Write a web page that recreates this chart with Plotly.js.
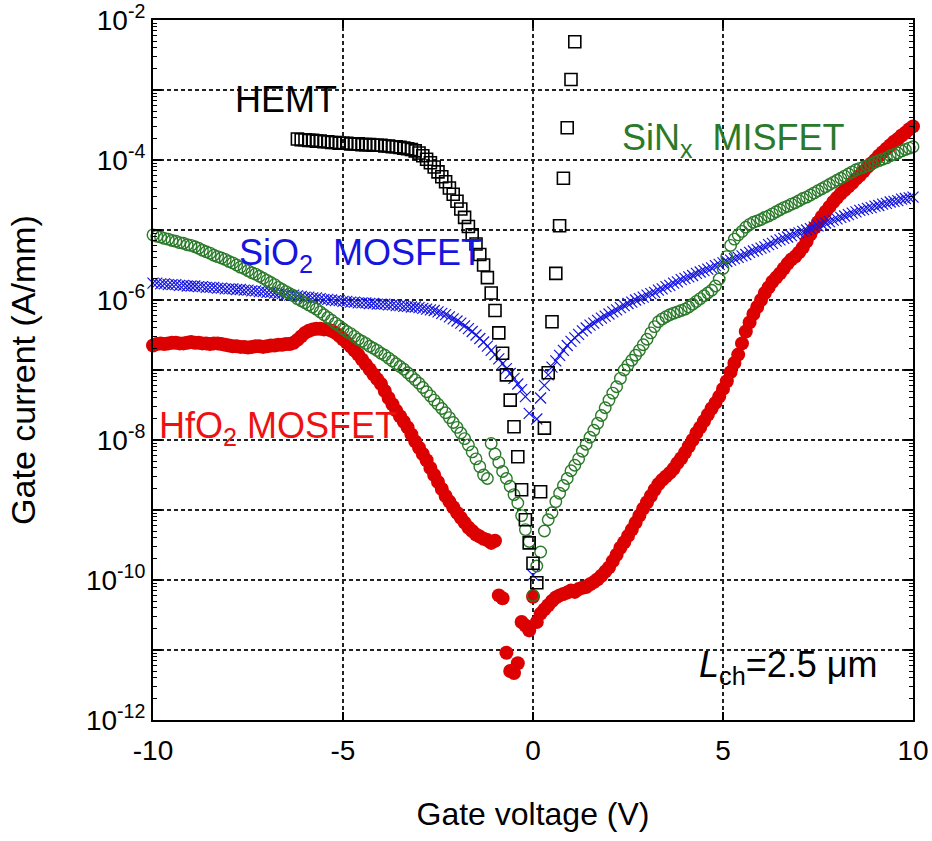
<!DOCTYPE html>
<html>
<head>
<meta charset="utf-8">
<script src="https://cdn.plot.ly/plotly-3.0.1.min.js"></script>
<style>html,body{margin:0;padding:0;background:#fff;}</style>
</head>
<body>
<div id="chart" style="width:932px;height:841px;"></div>
<script>
// Gate voltage sweep (V) shared by the three MOS/MIS curves
const gateVoltage = [
-10.0,-9.9,-9.8,-9.7,-9.6,-9.5,-9.4,-9.3,-9.2,-9.1,
-9.0,-8.9,-8.8,-8.7,-8.6,-8.5,-8.4,-8.3,-8.2,-8.1,
-8.0,-7.9,-7.8,-7.7,-7.6,-7.5,-7.4,-7.3,-7.2,-7.1,
-7.0,-6.9,-6.8,-6.7,-6.6,-6.5,-6.4,-6.3,-6.2,-6.1,
-6.0,-5.9,-5.8,-5.7,-5.6,-5.5,-5.4,-5.3,-5.2,-5.1,
-5.0,-4.9,-4.8,-4.7,-4.6,-4.5,-4.4,-4.3,-4.2,-4.1,
-4.0,-3.9,-3.8,-3.7,-3.6,-3.5,-3.4,-3.3,-3.2,-3.1,
-3.0,-2.9,-2.8,-2.7,-2.6,-2.5,-2.4,-2.3,-2.2,-2.1,
-2.0,-1.9,-1.8,-1.7,-1.6,-1.5,-1.4,-1.3,-1.2,-1.1,
-1.0,-0.9,-0.8,-0.7,-0.6,-0.5,-0.4,-0.3,-0.2,-0.1,
0.0,0.1,0.2,0.3,0.4,0.5,0.6,0.7,0.8,0.9,
1.0,1.1,1.2,1.3,1.4,1.5,1.6,1.7,1.8,1.9,
2.0,2.1,2.2,2.3,2.4,2.5,2.6,2.7,2.8,2.9,
3.0,3.1,3.2,3.3,3.4,3.5,3.6,3.7,3.8,3.9,
4.0,4.1,4.2,4.3,4.4,4.5,4.6,4.7,4.8,4.9,
5.0,5.1,5.2,5.3,5.4,5.5,5.6,5.7,5.8,5.9,
6.0,6.1,6.2,6.3,6.4,6.5,6.6,6.7,6.8,6.9,
7.0,7.1,7.2,7.3,7.4,7.5,7.6,7.7,7.8,7.9,
8.0,8.1,8.2,8.3,8.4,8.5,8.6,8.7,8.8,8.9,
9.0,9.1,9.2,9.3,9.4,9.5,9.6,9.7,9.8,9.9,
10.0];

// log10 of gate current (A/mm)
const sio2LogCurrent = [
-5.76,-5.76,-5.77,-5.77,-5.78,-5.78,-5.78,-5.79,-5.79,-5.80,
-5.80,-5.80,-5.81,-5.81,-5.82,-5.82,-5.82,-5.83,-5.83,-5.84,
-5.84,-5.84,-5.85,-5.85,-5.86,-5.86,-5.87,-5.87,-5.88,-5.88,
-5.89,-5.89,-5.90,-5.91,-5.91,-5.92,-5.93,-5.93,-5.94,-5.95,
-5.96,-5.96,-5.97,-5.97,-5.98,-5.99,-5.99,-6.00,-6.01,-6.01,
-6.02,-6.02,-6.03,-6.03,-6.04,-6.04,-6.04,-6.05,-6.05,-6.06,
-6.06,-6.06,-6.07,-6.07,-6.08,-6.08,-6.09,-6.09,-6.10,-6.10,
-6.11,-6.12,-6.13,-6.14,-6.15,-6.17,-6.19,-6.21,-6.24,-6.27,
-6.30,-6.33,-6.37,-6.41,-6.45,-6.50,-6.55,-6.60,-6.66,-6.72,
-6.78,-6.84,-6.91,-6.98,-7.05,-7.12,-7.20,-7.28,-7.38,-7.62,
-9.93,-7.70,-7.40,-7.22,-7.07,-6.96,-6.87,-6.79,-6.72,-6.65,
-6.59,-6.54,-6.49,-6.44,-6.40,-6.36,-6.33,-6.29,-6.26,-6.23,
-6.20,-6.17,-6.14,-6.11,-6.08,-6.05,-6.03,-6.00,-5.98,-5.96,
-5.93,-5.91,-5.89,-5.86,-5.84,-5.81,-5.79,-5.76,-5.74,-5.71,
-5.69,-5.67,-5.65,-5.62,-5.60,-5.58,-5.56,-5.54,-5.51,-5.49,
-5.47,-5.45,-5.43,-5.41,-5.39,-5.37,-5.35,-5.32,-5.30,-5.28,
-5.26,-5.24,-5.21,-5.19,-5.16,-5.14,-5.12,-5.10,-5.08,-5.06,
-5.04,-5.02,-5.00,-4.98,-4.96,-4.94,-4.92,-4.90,-4.88,-4.86,
-4.84,-4.82,-4.80,-4.78,-4.76,-4.74,-4.72,-4.71,-4.69,-4.68,
-4.66,-4.65,-4.63,-4.62,-4.60,-4.59,-4.58,-4.56,-4.55,-4.54,
-4.53];

const sinxLogCurrent = [
-5.07,-5.09,-5.10,-5.12,-5.13,-5.15,-5.16,-5.18,-5.19,-5.21,
-5.22,-5.24,-5.26,-5.29,-5.31,-5.33,-5.36,-5.38,-5.40,-5.42,
-5.45,-5.47,-5.50,-5.53,-5.55,-5.58,-5.61,-5.63,-5.66,-5.69,
-5.72,-5.75,-5.78,-5.82,-5.85,-5.88,-5.91,-5.94,-5.98,-6.01,
-6.04,-6.07,-6.10,-6.13,-6.17,-6.21,-6.25,-6.29,-6.33,-6.37,
-6.41,-6.45,-6.48,-6.52,-6.56,-6.59,-6.62,-6.66,-6.69,-6.72,
-6.76,-6.79,-6.83,-6.87,-6.91,-6.95,-6.99,-7.04,-7.09,-7.14,
-7.19,-7.25,-7.31,-7.37,-7.43,-7.49,-7.55,-7.61,-7.68,-7.75,
-7.82,-7.90,-7.98,-8.07,-8.17,-8.27,-8.38,-8.50,-8.55,-8.05,
-8.20,-8.32,-8.45,-8.55,-8.66,-8.78,-8.90,-9.08,-9.28,-9.45,
-10.22,-9.80,-9.60,-9.30,-9.14,-9.04,-8.88,-8.76,-8.65,-8.55,
-8.44,-8.36,-8.27,-8.16,-8.06,-7.96,-7.86,-7.76,-7.65,-7.54,
-7.43,-7.33,-7.24,-7.12,-7.00,-6.93,-6.86,-6.79,-6.72,-6.64,
-6.56,-6.47,-6.38,-6.31,-6.27,-6.24,-6.21,-6.19,-6.17,-6.15,
-6.13,-6.10,-6.06,-6.02,-5.98,-5.94,-5.90,-5.86,-5.80,-5.70,
-5.55,-5.38,-5.22,-5.13,-5.07,-5.02,-4.96,-4.92,-4.89,-4.87,
-4.85,-4.82,-4.80,-4.77,-4.74,-4.71,-4.68,-4.66,-4.63,-4.61,
-4.58,-4.55,-4.53,-4.50,-4.47,-4.44,-4.41,-4.38,-4.35,-4.32,
-4.29,-4.26,-4.23,-4.20,-4.17,-4.14,-4.12,-4.10,-4.08,-4.06,
-4.03,-4.01,-3.99,-3.97,-3.94,-3.92,-3.90,-3.87,-3.85,-3.83,
-3.81];

const hfo2LogCurrent = [
-6.65,-6.63,-6.62,-6.63,-6.62,-6.61,-6.61,-6.62,-6.62,-6.61,
-6.60,-6.61,-6.61,-6.62,-6.62,-6.63,-6.62,-6.62,-6.63,-6.64,
-6.65,-6.66,-6.66,-6.67,-6.67,-6.68,-6.67,-6.66,-6.66,-6.67,
-6.66,-6.65,-6.65,-6.64,-6.64,-6.63,-6.63,-6.61,-6.57,-6.52,
-6.47,-6.44,-6.42,-6.41,-6.41,-6.42,-6.42,-6.44,-6.47,-6.51,
-6.56,-6.61,-6.66,-6.72,-6.78,-6.85,-6.92,-6.99,-7.06,-7.13,
-7.20,-7.30,-7.40,-7.49,-7.58,-7.66,-7.74,-7.82,-7.92,-8.02,
-8.11,-8.20,-8.29,-8.40,-8.50,-8.60,-8.70,-8.80,-8.88,-8.96,
-9.04,-9.11,-9.18,-9.25,-9.30,-9.35,-9.38,-9.41,-9.43,-9.47,
-9.44,-10.22,-10.26,-11.04,-11.30,-11.33,-11.19,-10.60,-10.65,-10.72,
-10.24,-10.60,-10.48,-10.42,-10.36,-10.30,-10.25,-10.22,-10.20,-10.18,
-10.15,-10.17,-10.13,-10.11,-10.10,-10.06,-10.03,-9.99,-9.94,-9.88,
-9.82,-9.73,-9.64,-9.54,-9.46,-9.37,-9.28,-9.18,-9.08,-8.98,
-8.89,-8.80,-8.71,-8.63,-8.57,-8.52,-8.47,-8.41,-8.33,-8.26,
-8.18,-8.09,-8.00,-7.90,-7.82,-7.73,-7.64,-7.55,-7.47,-7.38,
-7.27,-7.16,-7.03,-6.90,-6.78,-6.62,-6.45,-6.32,-6.20,-6.10,
-6.00,-5.90,-5.82,-5.74,-5.68,-5.62,-5.55,-5.48,-5.42,-5.38,
-5.32,-5.25,-5.16,-5.06,-4.97,-4.89,-4.81,-4.74,-4.67,-4.60,
-4.54,-4.48,-4.43,-4.38,-4.33,-4.27,-4.22,-4.16,-4.10,-4.05,
-4.00,-3.94,-3.89,-3.84,-3.79,-3.74,-3.70,-3.65,-3.61,-3.56,
-3.52];

// HEMT sweep (V) and log10 gate current
const hemtVoltage = [
-6.2,-6.1,-6.0,-5.9,-5.8,-5.7,-5.6,-5.5,-5.4,-5.3,
-5.2,-5.1,-5.0,-4.9,-4.8,-4.7,-4.6,-4.5,-4.4,-4.3,
-4.2,-4.1,-4.0,-3.9,-3.8,-3.7,-3.6,-3.5,-3.4,-3.3,
-3.2,-3.1,-3.0,-2.9,-2.8,-2.7,-2.6,-2.5,-2.4,-2.3,
-2.2,-2.1,-2.0,-1.9,-1.8,-1.7,-1.6,-1.5,-1.4,-1.3,
-1.2,-1.1,-1.0,-0.9,-0.8,-0.7,-0.6,-0.5,-0.4,-0.3,
-0.2,-0.1,0.0,0.1,0.2,0.3,0.4,0.5,0.6,0.7,
0.8,0.9,1.0,1.1];
const hemtLogCurrent = [
-3.70,-3.71,-3.71,-3.72,-3.72,-3.73,-3.73,-3.74,-3.74,-3.75,
-3.75,-3.76,-3.76,-3.76,-3.77,-3.77,-3.77,-3.78,-3.78,-3.78,
-3.79,-3.79,-3.79,-3.80,-3.80,-3.81,-3.81,-3.82,-3.83,-3.84,
-3.85,-3.87,-3.90,-3.94,-3.99,-4.04,-4.10,-4.17,-4.24,-4.31,
-4.40,-4.49,-4.59,-4.70,-4.82,-4.95,-5.07,-5.20,-5.35,-5.50,
-5.68,-5.90,-6.15,-6.47,-6.76,-7.07,-7.43,-7.81,-8.24,-8.71,
-9.14,-9.47,-9.76,-10.04,-8.74,-7.83,-7.04,-6.31,-5.62,-4.94,
-4.26,-3.54,-2.85,-2.31];

// Axis ticks
const xTickVals = [-10, -5, 0, 5, 10];
const xTickText = ['-10', '-5', '0', '5', '10'];
const yTickVals = [1e-12, 1e-11, 1e-10, 1e-9, 1e-8, 1e-7, 1e-6, 1e-5, 1e-4, 1e-3, 1e-2];
const yTickText = ['10<sup>-12</sup>', '', '10<sup>-10</sup>', '', '10<sup>-8</sup>', '', '10<sup>-6</sup>', '', '10<sup>-4</sup>', '', '10<sup>-2</sup>'];

const toCurrent = arr => arr.map(e => Math.pow(10, e));

const FONT = 'Liberation Sans, Arial, sans-serif';

const traces = [
  {
    name: 'HfO2 MOSFET', x: gateVoltage, y: toCurrent(hfo2LogCurrent),
    mode: 'markers', type: 'scatter', cliponaxis: false,
    marker: {symbol: 'circle', size: 14, color: '#dd0000', line: {width: 0}}
  },
  {
    name: 'SiO2 MOSFET', x: gateVoltage, y: toCurrent(sio2LogCurrent),
    mode: 'markers', type: 'scatter', cliponaxis: false,
    marker: {symbol: 'x-thin', size: 11, color: '#1515e0', line: {width: 1.2, color: '#1515e0'}}
  },
  {
    name: 'SiNx MISFET', x: gateVoltage, y: toCurrent(sinxLogCurrent),
    mode: 'markers', type: 'scatter', cliponaxis: false,
    marker: {symbol: 'circle-open', size: 11.5, color: '#2a7a2a', line: {width: 1.4, color: '#2a7a2a'}}
  },
  {
    name: 'HEMT', x: hemtVoltage, y: toCurrent(hemtLogCurrent),
    mode: 'markers', type: 'scatter', cliponaxis: false,
    marker: {symbol: 'square-open', size: 12, color: '#000', line: {width: 1.6, color: '#000'}}
  }
];

const NB = '\u00a0';
const annFont = 36;
const layout = {
  width: 932, height: 841,
  margin: {l: 153, r: 19, t: 20, b: 121},
  paper_bgcolor: '#fff', plot_bgcolor: '#fff',
  font: {family: FONT, color: '#000'},
  showlegend: false,
  xaxis: {
    range: [-10, 10], tickmode: 'array', tickvals: xTickVals, ticktext: xTickText,
    ticks: 'inside', ticklen: 8, tickwidth: 1.2, tickcolor: '#000',
    showline: true, mirror: 'ticks', linecolor: '#000', linewidth: 2,
    showgrid: true, gridcolor: '#222', gridwidth: 1.3, griddash: '4px,3px',
    zeroline: false, tickfont: {family: FONT, size: 28, color: '#000'},
    ticklabelstandoff: 4,
    title: {text: 'Gate voltage (V)', font: {family: FONT, size: 32, color: '#000'}, standoff: 38}
  },
  yaxis: {
    type: 'log', range: [-12, -2], tickmode: 'array', tickvals: yTickVals, ticktext: yTickText,
    ticks: 'inside', ticklen: 9, tickwidth: 1.2, tickcolor: '#000',
    minor: {ticks: 'inside', ticklen: 4, tickwidth: 1, tickcolor: '#000', showgrid: false, dtick: 'D1'},
    showline: true, mirror: 'ticks', linecolor: '#000', linewidth: 2,
    showgrid: true, gridcolor: '#222', gridwidth: 1.3, griddash: '4px,3px',
    zeroline: false, tickfont: {family: FONT, size: 28, color: '#000'},
    title: {text: 'Gate current (A/mm)', font: {family: FONT, size: 34, color: '#000'}, standoff: 40}
  },
  annotations: [
    {x: -7.89, y: -3.14, xref: 'x', yref: 'y', text: 'HEMT', showarrow: false,
     xanchor: 'left', yanchor: 'middle', font: {family: FONT, size: annFont, color: '#000'}},
    {x: 2.30, y: -3.71, xref: 'x', yref: 'y', text: 'SiN<sub>x</sub>' + NB + NB + 'MISFET', showarrow: false,
     xanchor: 'left', yanchor: 'middle', font: {family: FONT, size: annFont, color: '#2a7a2a'}},
    {x: -7.80, y: -5.36, xref: 'x', yref: 'y', text: 'SiO<sub>2</sub>' + NB + NB + 'MOSFET', showarrow: false,
     xanchor: 'left', yanchor: 'middle', font: {family: FONT, size: annFont, color: '#1515e0'}},
    {x: -9.90, y: -7.83, xref: 'x', yref: 'y', text: 'HfO<sub>2</sub>' + NB + 'MOSFET', showarrow: false,
     xanchor: 'left', yanchor: 'middle', font: {family: FONT, size: annFont, color: '#ee1111'}},
    {x: 4.32, y: -11.24, xref: 'x', yref: 'y', text: '<i>L</i><sub>ch</sub>=2.5 \u03bcm', showarrow: false,
     xanchor: 'left', yanchor: 'middle', font: {family: FONT, size: annFont, color: '#000'}}
  ]
};

Plotly.newPlot('chart', traces, layout, {displayModeBar: false, staticPlot: true});
</script>
</body>
</html>
